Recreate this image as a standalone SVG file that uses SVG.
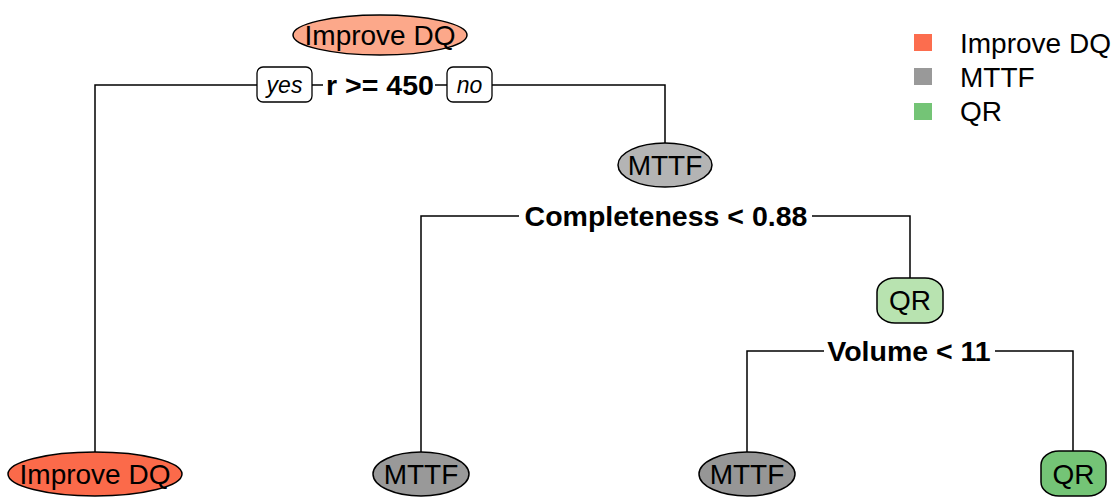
<svg xmlns="http://www.w3.org/2000/svg" width="1117" height="498" viewBox="0 0 1117 498">
<style>
.bg{fill:#ffffff}
.node{stroke:#000;stroke-width:1.5}
.lbl{font-family:"Liberation Sans",Arial,sans-serif;font-size:28px;fill:#000;text-anchor:middle}
.split{font-family:"Liberation Sans",Arial,sans-serif;font-size:28.5px;font-weight:bold;fill:#000;text-anchor:middle}
.yn{font-family:"Liberation Sans",Arial,sans-serif;font-size:23px;font-style:italic;fill:#000;text-anchor:middle}
.ynbox{fill:#fff;stroke:#000;stroke-width:1.3}
.edge{fill:none;stroke:#000;stroke-width:1.5}
.leg{font-family:"Liberation Sans",Arial,sans-serif;font-size:28px;fill:#000}
</style>
<rect class="bg" x="0" y="0" width="1117" height="498"/>
<g id="connectors">
<polyline class="edge" points="257,85 95,85 95,452"/>
<line class="edge" x1="312" y1="85" x2="323" y2="85"/>
<line class="edge" x1="435" y1="85" x2="447" y2="85"/>
<polyline class="edge" points="492,85 665,85 665,144"/>
<polyline class="edge" points="519,216 421,216 421,452"/>
<polyline class="edge" points="812,216 910,216 910,278"/>
<polyline class="edge" points="824,351 747,351 747,452"/>
<polyline class="edge" points="995,351 1073,351 1073,451"/>
</g>
<g id="node1">
<ellipse class="node" cx="380" cy="35" rx="87" ry="20" fill="#FCA88A"/>
<text class="lbl" x="380" y="45">Improve DQ</text>
</g>
<g id="split1">
<rect class="ynbox" x="257" y="67" width="55" height="35" rx="6"/>
<text class="yn" x="284.5" y="93">yes</text>
<text class="split" x="380" y="95">r &gt;= 450</text>
<rect class="ynbox" x="447" y="67" width="45" height="35" rx="6"/>
<text class="yn" x="469.5" y="93">no</text>
</g>
<g id="node2">
<ellipse class="node" cx="665" cy="165" rx="47" ry="22" fill="#B4B4B4"/>
<text class="lbl" x="665" y="175">MTTF</text>
</g>
<g id="split2">
<text class="split" x="666" y="226">Completeness &lt; 0.88</text>
</g>
<g id="node3">
<ellipse class="node" cx="95" cy="474" rx="87" ry="22" fill="#FB6A4A"/>
<text class="lbl" x="95" y="484">Improve DQ</text>
</g>
<g id="node4">
<ellipse class="node" cx="421" cy="474" rx="48" ry="22" fill="#999999"/>
<text class="lbl" x="421" y="484">MTTF</text>
</g>
<g id="node5">
<rect class="node" x="877" y="278" width="66" height="45" rx="18" ry="14" fill="#B8E3B0"/>
<text class="lbl" x="910" y="310">QR</text>
</g>
<g id="split3">
<text class="split" x="909" y="361">Volume &lt; 11</text>
</g>
<g id="node6">
<ellipse class="node" cx="747" cy="474" rx="48" ry="22" fill="#969696"/>
<text class="lbl" x="747" y="484">MTTF</text>
</g>
<g id="node7">
<rect class="node" x="1041" y="451" width="65" height="45" rx="18" ry="14" fill="#74C476"/>
<text class="lbl" x="1073.5" y="484">QR</text>
</g>
<g id="legend">
<rect x="914" y="34" width="18" height="17" fill="#FC6D4E"/>
<text class="leg" x="960" y="53">Improve DQ</text>
<rect x="914" y="68" width="18" height="17" fill="#999999"/>
<text class="leg" x="960" y="87">MTTF</text>
<rect x="914" y="103" width="18" height="17" fill="#74C476"/>
<text class="leg" x="960" y="121">QR</text>
</g>
</svg>
